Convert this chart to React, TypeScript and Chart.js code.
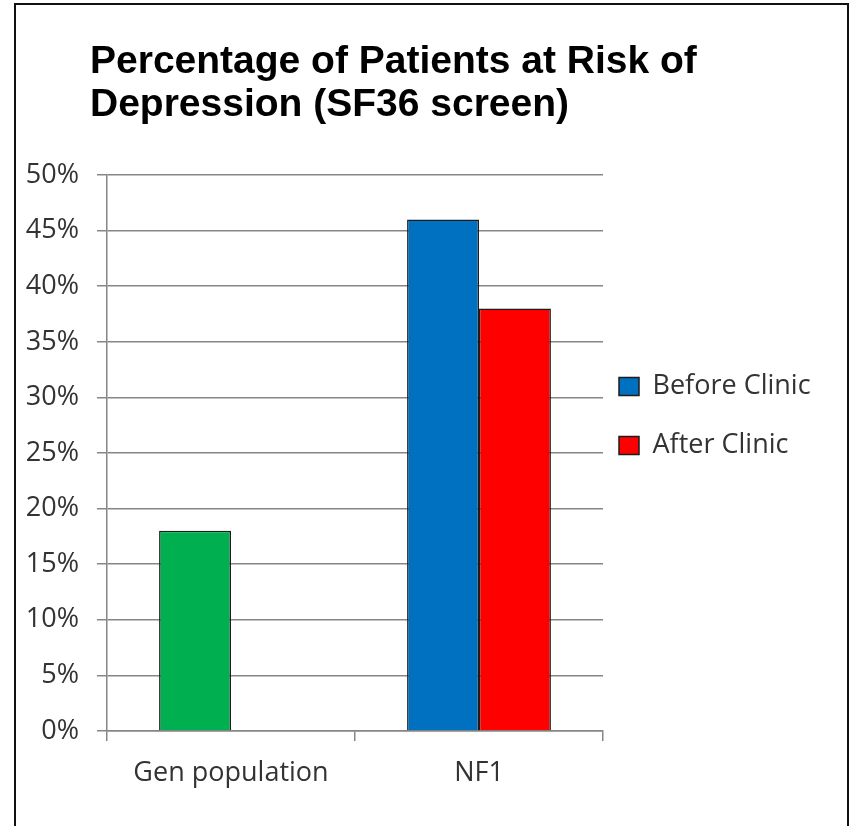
import { useEffect, useRef } from 'react';
import { Chart, registerables } from 'chart.js';

Chart.register(...registerables);

// Chart text
const TITLE_LINES = ['Percentage of Patients at Risk of', 'Depression (SF36 screen)'];
const CATEGORIES = ['Gen population', 'NF1'];
const BEFORE_LABEL = 'Before Clinic';
const AFTER_LABEL = 'After Clinic';

// Percent of patients at risk, per category
const BEFORE_VALUES: (number | null)[] = [18, 46];
const AFTER_VALUES: (number | null)[] = [null, 38];

// Y axis ticks (percent)
const Y_MIN = 0;
const Y_MAX = 50;
const Y_STEP = 5;

// Colours
const BEFORE_COLORS = ['#00B050', '#0070C0'];
const AFTER_COLOR = '#FF0000';
const BAR_EDGE = '#1c1c1c';
const GRID = '#868686';
const TEXT = '#333333';

const W = 854;
const H = 826;
const LEGEND_W = 251;
const LEGEND_TOP = 357;
const TITLE_LEFT = 90;

// fixed-width legend column placed part-way down the plot,
// and a title indented independently of the y axis
const layoutTweaks = {
  id: 'layoutTweaks',
  beforeLayout(chart: any) {
    const lg = chart.legend;
    if (lg && !lg.__fixedWidth) {
      const fit = lg.fit;
      lg.fit = function (this: any) {
        fit.call(this);
        this.width = LEGEND_W;
      };
      lg.__fixedWidth = true;
    }
  },
  afterLayout(chart: any) {
    if (chart.titleBlock) chart.titleBlock.left = TITLE_LEFT;
    const lg = chart.legend;
    if (lg) {
      lg.top = LEGEND_TOP;
      lg.bottom = LEGEND_TOP + 200;
    }
  },
};

export default function App() {
  const canvasRef = useRef<HTMLCanvasElement | null>(null);

  useEffect(() => {
    const canvas = canvasRef.current;
    if (!canvas) return;

    const chart = new Chart(canvas, {
      type: 'bar',
      data: {
        labels: CATEGORIES,
        datasets: [
          {
            label: BEFORE_LABEL,
            data: BEFORE_VALUES,
            backgroundColor: BEFORE_COLORS,
            borderColor: BAR_EDGE,
            borderWidth: 1.5,
            categoryPercentage: 0.58,
            barPercentage: 1,
          },
          {
            label: AFTER_LABEL,
            data: AFTER_VALUES,
            backgroundColor: AFTER_COLOR,
            borderColor: BAR_EDGE,
            borderWidth: 1.5,
            categoryPercentage: 0.58,
            barPercentage: 1,
          },
        ],
      },
      options: {
        responsive: false,
        animation: false,
        layout: { padding: { left: 16, right: 0, top: 0, bottom: 0 } },
        plugins: {
          tooltip: { enabled: false },
          title: {
            display: true,
            text: TITLE_LINES,
            align: 'start',
            color: '#000000',
            font: { family: 'Liberation Sans', size: 39, weight: 'bold', lineHeight: 1.103 },
            padding: { top: 41, bottom: 48 },
          },
          legend: {
            display: true,
            position: 'right',
            align: 'start',
            labels: {
              boxWidth: 20,
              boxHeight: 18,
              padding: 16,
              color: TEXT,
              font: { family: 'Open Sans', size: 27, lineHeight: 1.5926 },
              generateLabels: () => [
                {
                  text: [BEFORE_LABEL] as any,
                  fillStyle: BEFORE_COLORS[1],
                  strokeStyle: BAR_EDGE,
                  lineWidth: 1.5,
                  fontColor: TEXT,
                  hidden: false,
                  datasetIndex: 0,
                },
                {
                  text: [AFTER_LABEL] as any,
                  fillStyle: AFTER_COLOR,
                  strokeStyle: BAR_EDGE,
                  lineWidth: 1.5,
                  fontColor: TEXT,
                  hidden: false,
                  datasetIndex: 1,
                },
              ],
            },
          },
        },
        scales: {
          x: {
            offset: true,
            afterFit: (scale: any) => {
              scale.height = 95;
            },
            grid: {
              display: true,
              offset: true,
              drawOnChartArea: false,
              drawTicks: true,
              tickLength: 10,
              color: GRID,
              lineWidth: 1.5,
            },
            border: { display: true, color: GRID, width: 1.5 },
            ticks: {
              color: TEXT,
              padding: 16,
              font: { family: 'Open Sans', size: 27, lineHeight: 1.2 },
            },
          },
          y: {
            min: Y_MIN,
            max: Y_MAX,
            afterFit: (scale: any) => {
              scale.width = 91;
            },
            grid: {
              color: GRID,
              lineWidth: 1.5,
              drawTicks: true,
              tickLength: 10,
            },
            border: { display: true, color: GRID, width: 1.5 },
            ticks: {
              stepSize: Y_STEP,
              color: TEXT,
              padding: 18,
              font: { family: 'Open Sans', size: 27 },
              callback: (v: any) => `${v}%`,
            },
          },
        },
      },
      plugins: [layoutTweaks],
    });

    return () => chart.destroy();
  }, []);

  return (
    <div
      style={{
        position: 'fixed',
        left: 0,
        top: 0,
        width: W,
        height: H,
        overflow: 'hidden',
        background: '#ffffff',
      }}
    >
      <canvas ref={canvasRef} width={W} height={H} style={{ display: 'block' }} />
      <div
        style={{
          position: 'absolute',
          left: 14,
          top: 3,
          width: 835,
          height: 900,
          boxSizing: 'border-box',
          border: '2px solid #111',
          pointerEvents: 'none',
        }}
      />
    </div>
  );
}
